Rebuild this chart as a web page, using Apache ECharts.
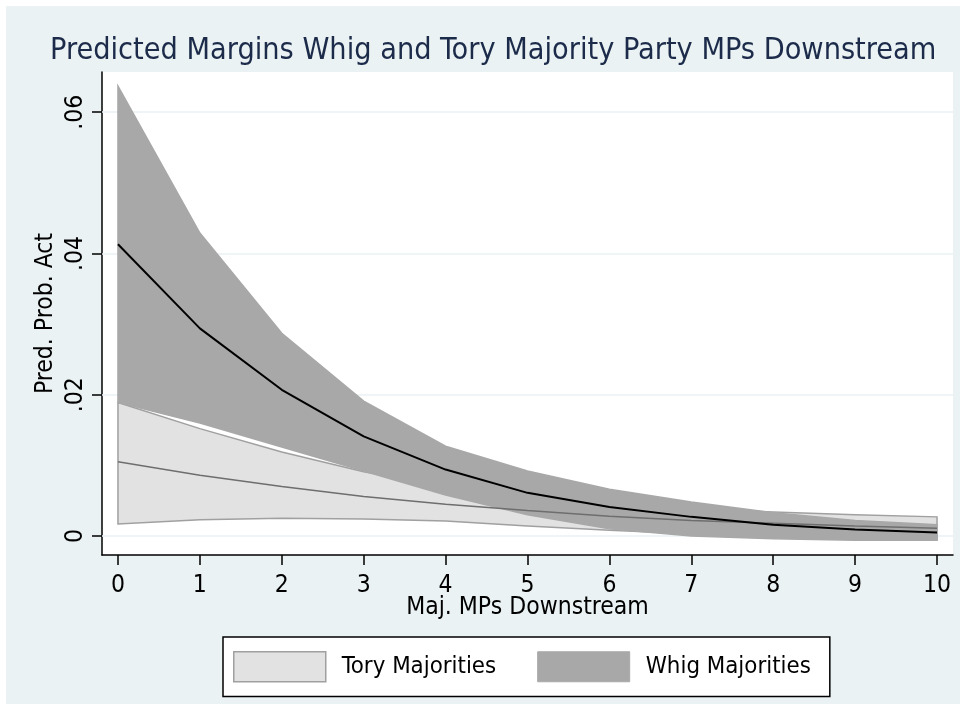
<!DOCTYPE html>
<html>
<head>
<meta charset="utf-8">
<script src="https://cdn.jsdelivr.net/npm/echarts@6/dist/echarts.min.js"></script>
<style>
html,body{margin:0;padding:0;background:#fff;}
#c{width:966px;height:710px;}
</style>
</head>
<body>
<div id="c"></div>
<script>
// ---- data ----
const xValues = [0, 1, 2, 3, 4, 5, 6, 7, 8, 9, 10];
const toryMid   = [0.0105, 0.0086, 0.0070, 0.0056, 0.0045, 0.0036, 0.0028, 0.0022, 0.0018, 0.0014, 0.0011];
const toryUpper = [0.0189, 0.0152, 0.0119, 0.0091, 0.0070, 0.0055, 0.0045, 0.0038, 0.0034, 0.0030, 0.0027];
const toryLower = [0.0017, 0.0023, 0.0025, 0.0024, 0.0021, 0.0014, 0.0008, 0.0003, 0.0000, -0.0003, -0.0005];
const whigMid   = [0.0413, 0.0294, 0.0207, 0.0141, 0.0094, 0.0061, 0.0041, 0.0027, 0.0016, 0.0009, 0.0005];
const whigUpper = [0.0637, 0.0429, 0.0287, 0.0191, 0.0127, 0.0092, 0.0066, 0.0048, 0.0033, 0.0022, 0.0016];
const whigLower = [0.0189, 0.0160, 0.0126, 0.0092, 0.0058, 0.0030, 0.0010, 0.0000, -0.0004, -0.0006, -0.0006];
const yTicks = [0, 0.02, 0.04, 0.06];
const yTickLabels = ['0', '.02', '.04', '.06'];
const xTicks = [0, 1, 2, 3, 4, 5, 6, 7, 8, 9, 10];
const seriesNames = ['Tory Majorities', 'Whig Majorities'];
const titleText = 'Predicted Margins Whig and Tory Majority Party MPs Downstream';
const xTitle = 'Maj. MPs Downstream';
const yTitle = 'Pred. Prob. Act';

const FONT = "'DejaVu Sans Condensed', 'Liberation Sans', Arial, sans-serif";
const FS = 24.5;

function bandSeries(name, upper, lower, fill, stroke) {
  return {
    type: 'custom',
    name: name,
    itemStyle: { color: fill },
    data: xValues.map((x, i) => [x, lower[i], upper[i]]),
    encode: { x: 0, y: [1, 2] },
    renderItem: function (params, api) {
      if (params.dataIndex !== 0) return null;
      const pts = [];
      for (let i = 0; i < xValues.length; i++) pts.push(api.coord([xValues[i], upper[i]]));
      for (let i = xValues.length - 1; i >= 0; i--) pts.push(api.coord([xValues[i], lower[i]]));
      return {
        type: 'polygon',
        shape: { points: pts },
        style: { fill: fill, stroke: stroke, lineWidth: 1.5 }
      };
    }
  };
}

const chart = echarts.init(document.getElementById('c'), null, { renderer: 'canvas' });
chart.setOption({
  backgroundColor: '#ffffff',
  animation: false,
  graphic: [{
    type: 'rect', z: -10, silent: true,
    shape: { x: 6, y: 6, width: 954, height: 698 },
    style: { fill: '#EAF2F3' }
  }],
  title: {
    text: titleText,
    left: 50,
    top: 36,
    padding: 0,
    textStyle: { fontFamily: FONT, fontSize: 30.3, fontWeight: 'normal', color: '#1C2B4A' }
  },
  grid: {
    left: 102, right: 13, top: 72, bottom: 155,
    show: true, backgroundColor: '#ffffff', borderWidth: 0
  },
  legend: {
    left: 223, top: 637,
    padding: [14, 19, 14, 10],
    backgroundColor: '#ffffff',
    borderColor: '#000000', borderWidth: 1.5,
    icon: 'rect',
    itemWidth: 92, itemHeight: 30, itemGap: 41,
    textStyle: { fontFamily: FONT, fontSize: 23.8, color: '#000', padding: [0, 0, 0, 11] },
    data: [
      { name: seriesNames[0], itemStyle: { color: '#E2E2E2', borderColor: '#A0A0A0', borderWidth: 1.5 } },
      { name: seriesNames[1], itemStyle: { color: '#A8A8A8', borderColor: '#A8A8A8', borderWidth: 1 } }
    ]
  },
  xAxis: {
    type: 'value',
    min: -0.195, max: 10.195,
    name: xTitle, nameLocation: 'middle', nameGap: 40, nameMoveOverlap: false,
    nameTextStyle: { fontFamily: FONT, fontSize: FS, color: '#000' },
    axisLine: { onZero: false, lineStyle: { color: '#000', width: 1.5 } },
    axisTick: { customValues: xTicks, length: 10, lineStyle: { color: '#000', width: 1.5 } },
    axisLabel: { customValues: xTicks, fontFamily: FONT, fontSize: FS, color: '#000', margin: 18 },
    splitLine: { show: false }
  },
  yAxis: {
    type: 'value',
    min: -0.0027, max: 0.0657,
    name: yTitle, nameLocation: 'middle', nameGap: 44, nameMoveOverlap: false,
    nameTextStyle: { fontFamily: FONT, fontSize: FS, color: '#000' },
    axisLine: { onZero: false, lineStyle: { color: '#000', width: 1.5 } },
    axisTick: { customValues: yTicks, length: 10, lineStyle: { color: '#000', width: 1.5 } },
    axisLabel: {
      customValues: yTicks, rotate: 90, fontFamily: FONT, fontSize: FS, color: '#000', margin: 14,
      formatter: function (v) { const i = yTicks.findIndex(t => Math.abs(t - v) < 1e-9); return i >= 0 ? yTickLabels[i] : ''; }
    },
    splitLine: { show: false }
  },
  series: [
    {
      type: 'line', name: 'grid', data: [], silent: true,
      markLine: {
        silent: true, symbol: 'none', z: 1, label: { show: false },
        lineStyle: { color: '#EAF2F3', width: 1.5, type: 'solid' },
        data: yTicks.map(v => ({ yAxis: v }))
      }
    },
    bandSeries(seriesNames[0], toryUpper, toryLower, '#E2E2E2', '#A0A0A0'),
    bandSeries(seriesNames[1], whigUpper, whigLower, '#A8A8A8', '#A8A8A8'),
    {
      type: 'line', name: 'toryMid', symbol: 'none', silent: true,
      data: xValues.map((x, i) => [x, toryMid[i]]),
      lineStyle: { color: '#6E6E6E', width: 1.5 }
    },
    {
      type: 'line', name: 'whigMid', symbol: 'none', silent: true,
      data: xValues.map((x, i) => [x, whigMid[i]]),
      lineStyle: { color: '#000000', width: 2 }
    }
  ]
});
</script>
</body>
</html>
